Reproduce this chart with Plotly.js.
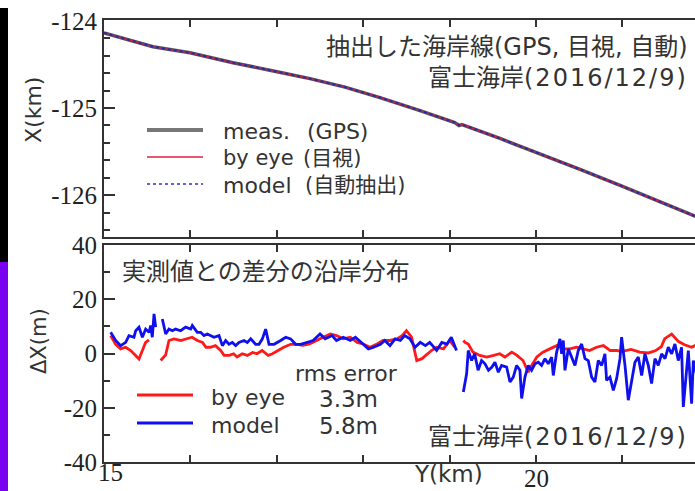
<!DOCTYPE html>
<html>
<head>
<meta charset="utf-8">
<script src="https://cdn.plot.ly/plotly-3.0.1.min.js"></script>
<style>
html, body { margin:0; padding:0; overflow:hidden; background:#fff; }
#chart { width:720px; height:491px; }
</style>
</head>
<body>
<div id="chart"></div>
<script>
// ---------- data ----------
// top panel: shoreline position X(km) vs alongshore Y(km)
const topY    = [15.0, 15.498, 15.567, 15.995, 16.493, 17.002, 17.384, 17.789, 18.194, 18.657, 19.005, 19.06, 19.109, 19.143, 19.583, 20.012, 20.509, 20.995, 21.435, 21.84, 22.13];
const topMeas = [-124.137, -124.274, -124.297, -124.366, -124.48, -124.583, -124.663, -124.76, -124.88, -125.029, -125.149, -125.166, -125.2, -125.189, -125.349, -125.509, -125.703, -125.897, -126.08, -126.24, -126.354];

// bottom panel: difference from measurement ΔX(m)
const eyeY  = [15.077,15.135,15.193,15.251,15.309,15.367,15.405,15.444,15.48,15.52,15.6,
  15.656,15.714,15.752,15.81,15.887,15.945,16.02,16.08,16.14,16.18,16.23,16.29,16.35,16.39,16.45,16.50,16.54,16.60,16.66,16.72,16.77,16.83,16.90,16.95,17.01,17.08,17.16,17.24,17.30,17.38,17.50,17.62,17.69,17.77,17.85,17.93,18.00,18.08,18.16,18.23,18.31,18.39,18.45,18.50,18.56,18.62,18.68,18.74,18.79,18.85,18.93,19.00,19.06,19.12,
  19.159,19.178,19.216,19.27,19.35,19.43,19.51,19.58,19.64,19.72,19.78,19.85,19.91,19.95,20.01,20.08,20.16,20.24,20.32,20.39,20.47,20.55,20.62,20.70,20.78,20.86,20.93,21.0,21.1,21.2,21.3,21.38,21.45,21.49,21.57,21.65,21.72,21.80,21.84,21.9];
const eyeDX = [6.6,3.4,1.7,2.3,1.1,-0.7,-2.0,1.1,4.0,5.0,null,
  -2.6,-0.5,4.8,5.4,4.8,5.4,6.0,4.8,4.1,2.3,2.3,2.9,1.1,-0.7,-0.7,-0.1,-1.3,-0.1,-0.7,0.4,-0.1,1.1,-0.7,-0.1,1.1,2.3,3.4,3.4,3.0,3.5,5.4,7.2,6.6,5.4,6.0,4.1,3.5,2.3,3.5,4.8,4.8,5.4,6.6,8.4,6.0,-2.6,-1.9,-0.1,1.1,2.3,1.7,4.8,2.3,null,
  4.8,4.1,3.5,0.5,-0.7,-1.3,-0.7,-0.1,-1.3,0.5,-0.7,-2.6,-6.9,-4.4,-1.3,0.5,1.7,2.9,1.7,1.7,2.3,1.7,1.1,2.3,2.9,1.1,1.1,0.8,1.5,0.5,0.2,1.0,2.5,5.5,7.2,4.4,3.2,2.3,2.9,2.0];

const modelY  = [15.077,15.135,15.193,15.251,15.289,15.347,15.367,15.405,15.444,15.482,15.521,15.540,15.559,15.579,15.598,15.63,
  15.675,15.714,15.752,15.791,15.829,15.887,15.945,16.003,16.022,16.080,16.119,16.157,16.196,16.273,16.331,16.370,16.408,16.447,16.485,16.524,16.562,16.620,16.659,16.698,16.755,16.794,16.833,16.871,16.910,16.968,17.045,17.103,17.160,17.218,17.276,17.35,17.42,17.50,17.56,17.64,17.69,17.77,17.85,17.91,17.98,18.06,18.12,18.20,18.25,18.31,18.37,18.43,18.48,18.54,18.60,18.66,18.72,18.77,18.85,18.91,18.97,19.02,19.08,19.12,
  19.159,19.197,19.216,19.255,19.29,19.33,19.37,19.41,19.45,19.49,19.525,19.564,19.602,19.660,19.699,19.737,19.776,19.814,19.834,19.872,19.911,19.949,19.988,20.027,20.065,20.104,20.142,20.181,20.200,20.239,20.277,20.297,20.316,20.335,20.374,20.412,20.451,20.489,20.528,20.567,20.605,20.644,20.682,20.721,20.760,20.798,20.817,20.856,20.895,20.933,20.972,20.991,21.030,21.068,21.107,21.145,21.184,21.223,21.261,21.300,21.338,21.377,21.415,21.454,21.493,21.531,21.570,21.608,21.647,21.685,21.705,21.744,21.763,21.801,21.821,21.86,21.9];
const modelDX = [7.8,4.8,2.9,4.1,6.6,6.0,8.4,9.7,6.0,9.0,7.8,10.3,6.0,14.6,9.7,null,
  12.7,7.2,9.0,8.4,9.0,8.4,9.7,9.0,10.3,7.8,7.8,6.6,7.2,6.0,6.6,2.9,4.8,3.4,4.1,2.9,4.1,4.8,4.1,5.4,3.4,3.4,5.4,9.0,3.4,3.4,4.8,6.0,5.4,3.4,3.4,4.1,4.8,7.2,5.4,6.6,4.8,6.0,4.8,6.0,4.1,1.7,2.3,3.4,4.8,2.9,5.4,4.8,6.6,5.4,2.3,4.1,2.9,4.1,1.1,4.1,3.5,6.0,1.1,null,
  -14.2,-7.5,1.1,-2.6,-0.1,-6.2,-2.6,-3.8,-6.2,-5.0,-3.2,-6.9,-4.4,-5.0,-10.5,-8.7,-4.4,-6.2,-16.6,-8.7,-4.4,-6.2,-3.8,-3.2,-4.4,-1.9,-3.8,-1.3,-8.1,0.5,5.4,-0.1,4.8,-6.2,1.7,-1.3,-4.4,1.1,3.5,-1.9,-2.6,-8.7,-10.5,-2.6,-4.4,-0.1,-9.9,-8.7,-13.6,-9.3,-1.9,6.0,-4.4,-17.2,-9.9,-3.2,-1.3,-8.1,-0.1,-4.4,-11.1,-1.9,-4.4,-0.1,-1.9,2.3,-0.1,3.5,-2.6,2.3,-19.7,-4.4,1.1,-18.5,-2.6,-8,-2];

// tick labels
const xTickVals = [15,16,17,18,19,20,21,22];
const xLabelVals = [15, 20];
const xLabelText = ['15', '20'];
const topTickVals = [-126,-125,-124];
const topTickText = ['-126','-125','-124'];
const topMinorVals = [-126.4,-126.2,-125.8,-125.6,-125.4,-125.2,-124.8,-124.6,-124.4,-124.2];
const botTickVals = [-40,-20,0,20,40];
const botTickText = ['-40','-20','0','20','40'];
const botMinorVals = [-30,-10,10,30];

// ---------- layout helpers (pixel -> paper) ----------
const L = 104, W = 616, T = 20, B = 462, H = B - T;
const px = x => (x - L) / W;
const py = y => (B - y) / H;

const SANS = 'DejaVu Sans, Noto Sans CJK JP, sans-serif';
const SERIF = 'Liberation Serif, Times New Roman, serif';
const AX = '#333';
const TXT = '#333';

const traces = [
  {x: topY, y: topMeas, xaxis:'x', yaxis:'y', mode:'lines', line:{color:'#555', width:3.5}, name:'meas.'},
  {x: topY, y: topMeas, xaxis:'x', yaxis:'y', mode:'lines', line:{color:'#c02050', width:1.5}, name:'by eye'},
  {x: topY, y: topMeas, xaxis:'x', yaxis:'y', mode:'lines', line:{color:'#2a2aa8', width:2, dash:'dot'}, name:'model'},
  {x: eyeY, y: eyeDX, xaxis:'x2', yaxis:'y2', mode:'lines', connectgaps:false, line:{color:'#ff1a1a', width:2.8}, name:'by eye'},
  {x: modelY, y: modelDX, xaxis:'x2', yaxis:'y2', mode:'lines', connectgaps:false, line:{color:'#1010ee', width:2.8}, name:'model'}
];

function xAxis(anchor) {
  return {
    anchor: anchor, range:[15, 15 + W/86.4], tickmode:'array', tickvals:xTickVals,
    ticktext: xTickVals.map(()=>''),
    ticks:'inside', ticklen:7, tickwidth:2, tickcolor:AX,
    showline:true, linecolor:AX, linewidth:2, mirror:'allticks',
    showgrid:false, zeroline:false
  };
}

const layout = {
  width:720, height:491,
  margin:{l:L, r:0, t:T, b:491-B},
  paper_bgcolor:'#fff', plot_bgcolor:'#fff',
  showlegend:false,
  xaxis: xAxis('y'),
  xaxis2: xAxis('y2'),
  yaxis: {
    domain:[py(237), 1], range:[-124 - 217/87.5, -123.99],
    tickmode:'array', tickvals:topTickVals, ticktext:topTickText,
    ticks:'inside', ticklen:11, tickwidth:2, tickcolor:AX,
    minor:{tickmode:'array', tickvals:topMinorVals, ticks:'inside', ticklen:6, tickwidth:2, tickcolor:AX, showgrid:false},
    showline:true, linecolor:AX, linewidth:2, mirror:'allticks',
    showgrid:false, zeroline:false,
    tickfont:{family:SERIF, size:25, color:'#222'}
  },
  yaxis2: {
    domain:[0, py(245)], range:[-40, 40],
    tickmode:'array', tickvals:botTickVals, ticktext:botTickText,
    ticks:'inside', ticklen:11, tickwidth:2, tickcolor:AX,
    minor:{tickmode:'array', tickvals:botMinorVals, ticks:'inside', ticklen:6, tickwidth:2, tickcolor:AX, showgrid:false},
    showline:true, linecolor:AX, linewidth:2, mirror:'allticks',
    showgrid:false, zeroline:false,
    tickfont:{family:SERIF, size:25, color:'#222'}
  },
  shapes: [
    // left border strips of the original image
    {type:'rect', xref:'paper', yref:'paper', x0:px(-2), x1:px(8), y0:py(8), y1:py(262), fillcolor:'#000', line:{width:0}, layer:'above'},
    {type:'rect', xref:'paper', yref:'paper', x0:px(-2), x1:px(8), y0:py(493), y1:py(262), fillcolor:'#7a00f0', line:{width:0}, layer:'above'},
    // top legend samples
    {type:'line', xref:'paper', yref:'paper', x0:px(147), x1:px(203), y0:py(130), y1:py(130), line:{color:'#777', width:4}},
    {type:'line', xref:'paper', yref:'paper', x0:px(147), x1:px(203), y0:py(157), y1:py(157), line:{color:'#e02040', width:1.5}},
    {type:'line', xref:'paper', yref:'paper', x0:px(147), x1:px(203), y0:py(184), y1:py(184), line:{color:'#3030c0', width:1.5, dash:'dot'}},
    // bottom legend samples
    {type:'line', xref:'paper', yref:'paper', x0:px(137), x1:px(193), y0:py(395), y1:py(395), line:{color:'#ff1a1a', width:2.8}},
    {type:'line', xref:'paper', yref:'paper', x0:px(137), x1:px(193), y0:py(423), y1:py(423), line:{color:'#1010ee', width:2.8}}
  ],
  annotations: []
};

function ann(text, x, y, size, xanchor, extra) {
  return Object.assign({
    text:text, xref:'paper', yref:'paper', x:px(x), y:py(y),
    xanchor:xanchor||'left', yanchor:'middle', showarrow:false,
    font:{family:SANS, size:size, color:TXT}, borderpad:0
  }, extra||{});
}

// x tick labels (bottom axis), placed through the x2 data scale
xLabelVals.forEach((v, i) => {
  layout.annotations.push({
    text:xLabelText[i], xref:'x2', yref:'paper', x:v, y:py(i === 0 ? 473 : 478),
    xanchor: i === 0 ? 'left' : 'center', yanchor:'middle', showarrow:false,
    xshift: i === 0 ? -7 : 0, borderpad:0,
    font:{family:SERIF, size:25, color:'#222'}
  });
});

layout.annotations.push(
  ann('抽出した海岸線(GPS, 目視, 自動)', 689, 47, 24, 'right'),
  ann('富士海岸<span style="letter-spacing:2px">(2016/12/9)</span>', 689, 78, 24, 'right'),
  ann('meas.', 222, 131, 22),
  ann('(GPS)', 306, 131, 22),
  ann('by eye', 222, 158, 21),
  ann('(目視)', 302, 158, 21),
  ann('model', 222, 185, 22),
  ann('(自動抽出)', 304, 185, 21),
  ann('実測値との差分の沿岸分布', 121, 272, 24),
  ann('rms error', 294, 373, 22),
  ann('by eye', 210, 397, 22),
  ann('3.3m', 318, 399, 23),
  ann('model', 210, 425, 22),
  ann('5.8m', 318, 426, 23),
  ann('富士海岸<span style="letter-spacing:2px">(2016/12/9)</span>', 689, 437, 24, 'right'),
  ann('Y(km)', 448, 474, 23, 'center'),
  ann('X(km)', 33, 110, 22, 'center', {textangle:-90}),
  ann('ΔX(m)', 39, 341, 21, 'center', {textangle:-90})
);

Plotly.newPlot('chart', traces, layout, {staticPlot:true, displayModeBar:false});
</script>
</body>
</html>
